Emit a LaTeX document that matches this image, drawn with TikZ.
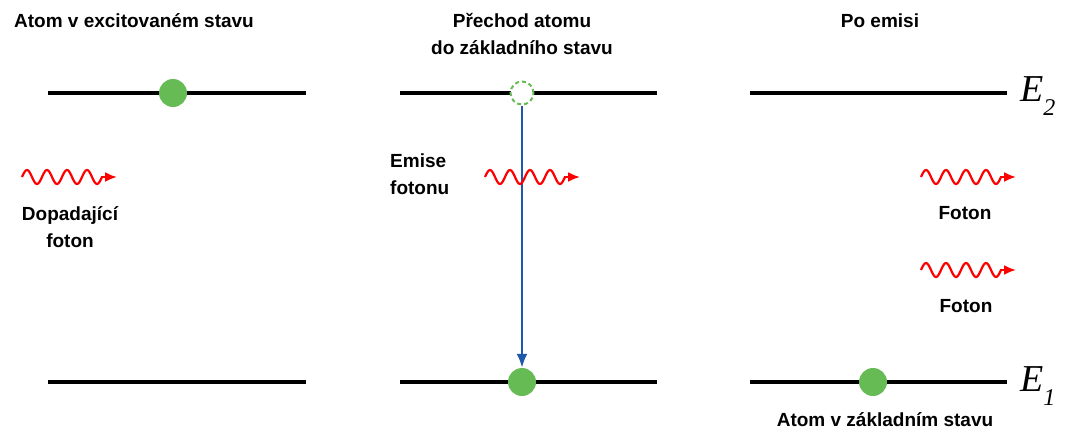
\documentclass[tikz,border=0pt]{standalone}
\usepackage{fontspec}
\usetikzlibrary{arrows.meta}
\setmainfont{Liberation Sans}
\newfontfamily\serifE{Liberation Serif}
\definecolor{zelena}{HTML}{66BB55}
\definecolor{modra}{HTML}{1F5AAA}
\tikzset{
  hladina/.style={line width=4pt, black},
  elektron/.style={circle, fill=zelena, minimum size=28pt, inner sep=0pt},
  prazdny/.style={circle, draw=zelena, dash pattern=on 4pt off 3pt, line width=2pt, fill=white, minimum size=23pt, inner sep=0pt},
  popis/.style={font=\fontsize{19}{27}\selectfont\bfseries, align=center, inner sep=0pt},
  vlna/.style={red, line width=2.2pt},
  hladinaE/.style={font=\fontsize{38}{38}\selectfont\serifE\itshape, anchor=west, inner sep=0pt}
}
\begin{document}
\begin{tikzpicture}[x=1pt,y=-1pt]
\useasboundingbox (0,0) rectangle (1065,434);
% hladiny E2 a E1
\draw[hladina] (48,93) -- (306,93);
\draw[hladina] (400,93) -- (657,93);
\draw[hladina] (750,93) -- (1007,93);
\draw[hladina] (48,382) -- (306,382);
\draw[hladina] (400,382) -- (657,382);
\draw[hladina] (750,382) -- (1007,382);
\node[hladinaE] (E2) at (1020,96) {E\raisebox{-0.35em}{\fontsize{24}{24}\selectfont 2}};
\node[hladinaE] (E1) at (1020,386) {E\raisebox{-0.35em}{\fontsize{24}{24}\selectfont 1}};
% elektrony
\node[elektron] (excit) at (173,93) {};
\node[prazdny] (horni) at (522,93) {};
\node[elektron] (dolni) at (522,382) {};
\node[elektron] (zakl) at (873,382) {};
% prechod dolu
\draw[modra, line width=2.4pt, -{Latex[length=14pt,width=11pt]}] (horni) -- (dolni);
% fotony
\foreach \fx/\fy in {22/177, 485/177, 921/177, 921/270}
{
  \draw[vlna] plot[domain=0:80, samples=80, smooth] ({\fx+\x}, {\fy-7*sin(\x*18)});
  \draw[vlna, -{Latex[length=12pt,width=10pt]}] ({\fx+79},\fy) -- ({\fx+95},\fy);
}
% texty
\node[popis] (nadpisA) at (134,21) {Atom v excitovaném stavu};
\node[popis] (nadpisB) at (522,34) {Přechod atomu\\do základního stavu};
\node[popis] (nadpisC) at (880,21) {Po emisi};
\node[popis] (dopad) at (70,227) {Dopadající\\foton};
\node[popis, align=left, anchor=west] (emise) at (390,174) {Emise\\fotonu};
\node[popis] (foton1) at (965,213) {Foton};
\node[popis] (foton2) at (966,306) {Foton};
\node[popis] (atomZ) at (885,420) {Atom v základním stavu};
\end{tikzpicture}
\end{document}
